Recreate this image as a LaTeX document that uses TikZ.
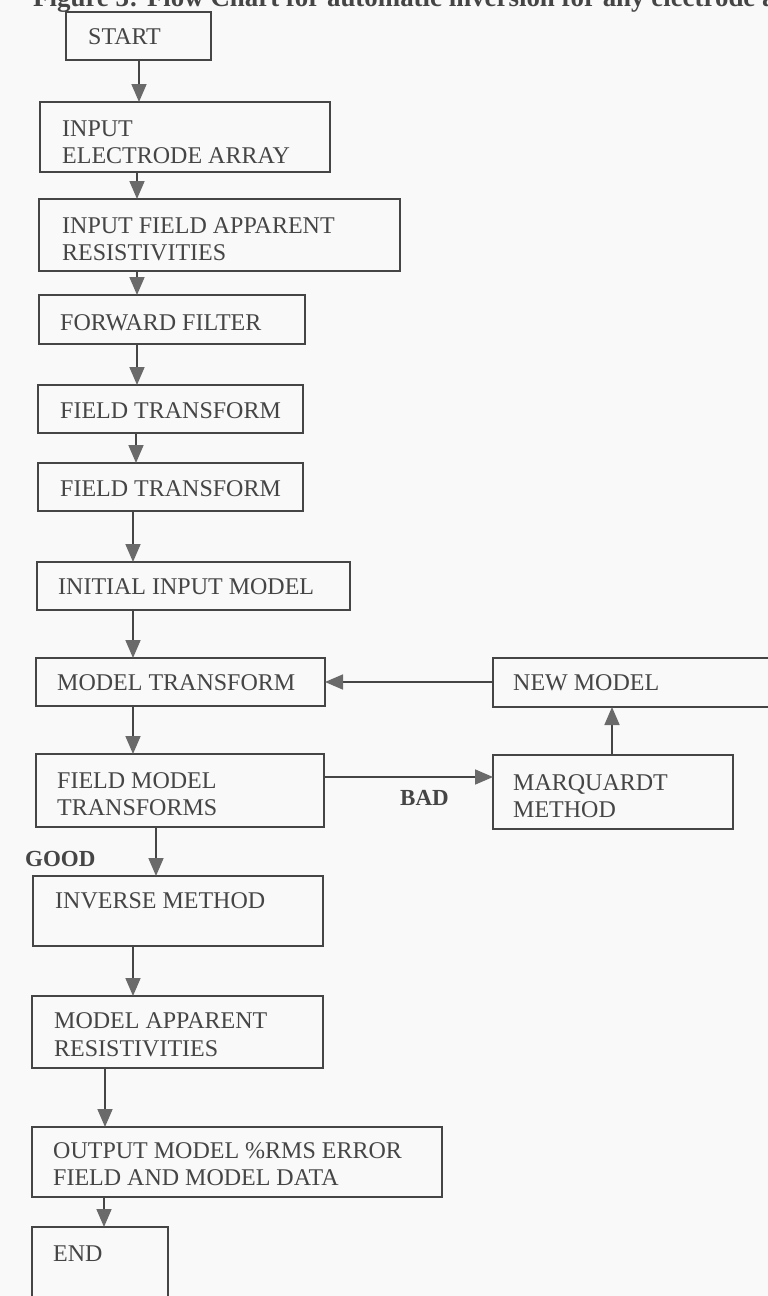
\documentclass[tikz,border=0pt]{standalone}
\usepackage{fontspec}
\setmainfont{Liberation Serif}
\usetikzlibrary{arrows.meta}
\definecolor{ink}{HTML}{454545}
\definecolor{headc}{HTML}{6A6A6A}
\definecolor{paper}{HTML}{F9F9F9}
\begin{document}
\begin{tikzpicture}[x=1pt,y=-1pt,
  box/.style={draw=ink, line width=1.7pt, rectangle, anchor=north west, inner sep=0pt, outer sep=0pt},
  txt/.style={anchor=base west, inner sep=0pt, text=ink, font=\fontsize{24}{27}\selectfont},
  lbl/.style={anchor=base west, inner sep=0pt, text=ink, font=\fontsize{23}{27}\selectfont\bfseries},
  captxt/.style={anchor=base west, inner sep=0pt, text=ink, font=\fontsize{26.9}{30}\selectfont\bfseries},
  arr/.style={draw=ink, line width=1.7pt, -{Triangle[width=15pt,length=18pt,color=headc]}},
]
\useasboundingbox (0,0) rectangle (768,1296);
\fill[paper] (0,0) rectangle (768,1296);
\clip (0,0) rectangle (768,1296);

% caption (cut off at the top edge, as in the reference)
\node[captxt] (caption) at (33,6.5) {Figure 3: Flow Chart for automatic inversion for any electrode array};

% boxes
\node[box, minimum width=145pt, minimum height=48pt] (start) at (66,12) {};
\node[box, minimum width=290pt, minimum height=70pt] (inp) at (40,102) {};
\node[box, minimum width=361pt, minimum height=72pt] (iapp) at (39,199) {};
\node[box, minimum width=266pt, minimum height=49pt] (fwd) at (39,295) {};
\node[box, minimum width=265pt, minimum height=48pt] (ftA) at (38,385) {};
\node[box, minimum width=265pt, minimum height=48pt] (ftB) at (38,463) {};
\node[box, minimum width=313pt, minimum height=48pt] (init) at (37,562) {};
\node[box, minimum width=289pt, minimum height=48pt] (mt) at (36,658) {};
\node[box, minimum width=288pt, minimum height=73pt] (fmt) at (36,754) {};
\node[box, minimum width=290pt, minimum height=70pt] (inv) at (33,876) {};
\node[box, minimum width=291pt, minimum height=72pt] (map) at (32,996) {};
\node[box, minimum width=410pt, minimum height=70pt] (out) at (32,1127) {};
\node[box, minimum width=136pt, minimum height=90pt] (endb) at (32,1227) {};
\node[box, minimum width=290pt, minimum height=49pt] (new) at (493,658) {};
\node[box, minimum width=240pt, minimum height=74pt] (mq) at (493,755) {};

% texts
\node[txt] (tstart) at (88,44) {START};
\node[txt] (tinpA) at (62,136) {INPUT};
\node[txt] (tinpB) at (62,163) {ELECTRODE ARRAY};
\node[txt] (tiappA) at (62,233) {INPUT FIELD APPARENT};
\node[txt] (tiappB) at (62,260) {RESISTIVITIES};
\node[txt] (tfwd) at (60,330) {FORWARD FILTER};
\node[txt] (tftA) at (60,418) {FIELD TRANSFORM};
\node[txt] (tftB) at (60,496) {FIELD TRANSFORM};
\node[txt] (tinit) at (58,594) {INITIAL INPUT MODEL};
\node[txt] (tmt) at (57,690) {MODEL TRANSFORM};
\node[txt] (tnew) at (513,690) {NEW MODEL};
\node[txt] (tfmtA) at (57,788) {FIELD MODEL};
\node[txt] (tfmtB) at (57,815) {TRANSFORMS};
\node[txt] (tmqA) at (513,790) {MARQUARDT};
\node[txt] (tmqB) at (513,817) {METHOD};
\node[lbl] (bad) at (400,805) {BAD};
\node[lbl] (good) at (25,866) {GOOD};
\node[txt] (tinv) at (55,908) {INVERSE METHOD};
\node[txt] (tmapA) at (54,1028) {MODEL APPARENT};
\node[txt] (tmapB) at (54,1056) {RESISTIVITIES};
\node[txt] (toutA) at (53,1158) {OUTPUT MODEL \%RMS ERROR};
\node[txt] (toutB) at (53,1185) {FIELD AND MODEL DATA};
\node[txt] (tend) at (53,1261) {END};

% connector guides
\coordinate (xa) at (139,0);
\coordinate (xb) at (137,0);
\coordinate (xb2) at (136,0);
\coordinate (xc) at (133,0);
\coordinate (xd) at (156,0);
\coordinate (xe) at (105,0);
\coordinate (xe2) at (104,0);
\coordinate (xf) at (612,0);
\coordinate (ya) at (0,682);
\coordinate (yb) at (0,777);

% connectors
\draw[arr] (start.south -| xa) -- (inp.north -| xa);
\draw[arr] (inp.south -| xb) -- (iapp.north -| xb);
\draw[arr] (iapp.south -| xb) -- (fwd.north -| xb);
\draw[arr] (fwd.south -| xb) -- (ftA.north -| xb);
\draw[arr] (ftA.south -| xb2) -- (ftB.north -| xb2);
\draw[arr] (ftB.south -| xc) -- (init.north -| xc);
\draw[arr] (init.south -| xc) -- (mt.north -| xc);
\draw[arr] (mt.south -| xc) -- (fmt.north -| xc);
\draw[arr] (fmt.south -| xd) -- (inv.north -| xd);
\draw[arr] (inv.south -| xc) -- (map.north -| xc);
\draw[arr] (map.south -| xe) -- (out.north -| xe);
\draw[arr] (out.south -| xe2) -- (endb.north -| xe2);
\draw[arr] (new.west |- ya) -- (mt.east |- ya);
\draw[arr] (fmt.east |- yb) -- (mq.west |- yb);
\draw[arr] (mq.north -| xf) -- (new.south -| xf);
\end{tikzpicture}
\end{document}
